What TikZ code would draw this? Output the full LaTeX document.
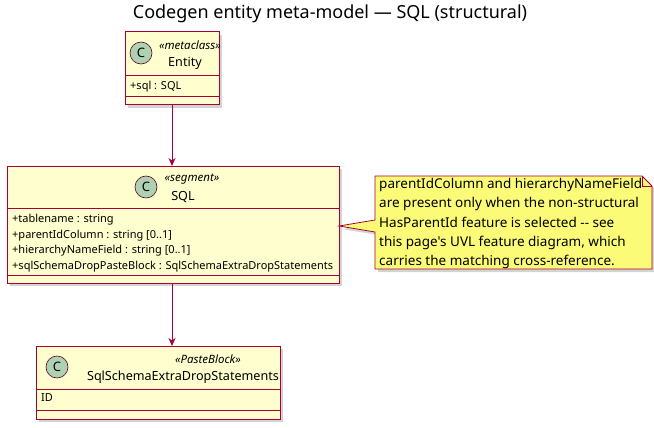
\documentclass[tikz,border=0pt]{standalone}
\usepackage{fontspec}
\setmainfont{Noto Sans}[Ligatures=TeXOff]
\usetikzlibrary{arrows.meta,shadows}
\definecolor{bfill}{HTML}{FEFECE}
\definecolor{bdr}{HTML}{A80036}
\definecolor{nfill}{HTML}{FBFB77}
\definecolor{cc}{HTML}{ADD1B2}
\tikzset{
 box/.style={draw=bdr,fill=bfill,line width=1pt,drop shadow={shadow xshift=3pt,shadow yshift=-3pt,opacity=0.35}},
 sep/.style={draw=bdr,line width=1pt},
 circ/.style={circle,draw=bdr!60!black,fill=cc,line width=0.6pt,minimum size=22pt,inner sep=0pt,font=\fontsize{13}{13}\selectfont\bfseries},
 nm/.style={font=\fontsize{12.6}{14}\selectfont},
 st/.style={font=\fontsize{11.5}{13}\selectfont\itshape},
 attr/.style={font=\fontsize{11}{13}\selectfont,anchor=west,inner sep=0pt},
 arr/.style={draw=bdr,line width=0.8pt,-{Stealth[length=8pt,width=7pt]}}
}
\begin{document}
\begin{tikzpicture}[x=1pt,y=-1pt]
\useasboundingbox (0,0) rectangle (654,428);
\node[font=\fontsize{18}{20}\selectfont] (title) at (330,14) {Codegen entity meta-model — SQL (structural)};
% Entity
\path[box] (125,32) rectangle (219,105);
\draw[sep] (125,76) -- (219,76) (125,97) -- (219,97);
\node[circ] (c1) at (141,53) {C};
\node[st] (s1) at (190,45) {«metaclass»};
\node[nm] (n1) at (185,63) {Entity};
\node[attr] (a1) at (130,87) {+sql : SQL};
\coordinate (e) at (172,105);
% SQL
\path[box] (7,166) rectangle (339,283);
\draw[sep] (7,208) -- (339,208) (7,275) -- (339,275);
\node[circ] (c2) at (146,187) {C};
\node[st] (s2) at (192,179) {«segment»};
\node[nm] (n2) at (183,197) {SQL};
\node[attr] (a2) at (12,220) {+tablename : string};
\node[attr] (a3) at (12,236) {+parentIdColumn : string [0..1]};
\node[attr] (a4) at (12,251) {+hierarchyNameField : string [0..1]};
\node[attr] (a5) at (12,267) {+sqlSchemaDropPasteBlock : SqlSchemaExtraDropStatements};
\coordinate (sT) at (172,166);
\coordinate (sB) at (172,283);
\coordinate (sR) at (339,226);
% PasteBlock
\path[box] (36,346) rectangle (280,419);
\draw[sep] (36,389) -- (280,389) (36,410) -- (280,410);
\node[circ] (c3) at (57,367) {C};
\node[st] (s3) at (208,359) {«PasteBlock»};
\node[nm] (n3) at (183,377) {SqlSchemaExtraDropStatements};
\node[attr] (a6) at (41,398) {ID};
\coordinate (pT) at (172,346);
% arrows
\draw[arr] (e) -- (sT);
\draw[arr] (sB) -- (pT);
% note
\path[draw=bdr,fill=nfill,line width=0.8pt,drop shadow={shadow xshift=3pt,shadow yshift=-3pt,opacity=0.35}]
 (375,176) -- (642,176) -- (652,186) -- (652,269) -- (375,269) -- (375,232) -- (sR) -- (375,220) -- cycle;
\draw[draw=bdr,line width=0.8pt] (642,176) -- (642,186) -- (652,186);
\node[font=\fontsize{13.5}{19.3}\selectfont,align=left,anchor=north west,inner sep=0pt] (note) at (379,178)
{parentIdColumn and hierarchyNameField\\are present only when the non-structural\\HasParentId feature is selected -- see\\this page's UVL feature diagram, which\\carries the matching cross-reference.};
\end{tikzpicture}
\end{document}
